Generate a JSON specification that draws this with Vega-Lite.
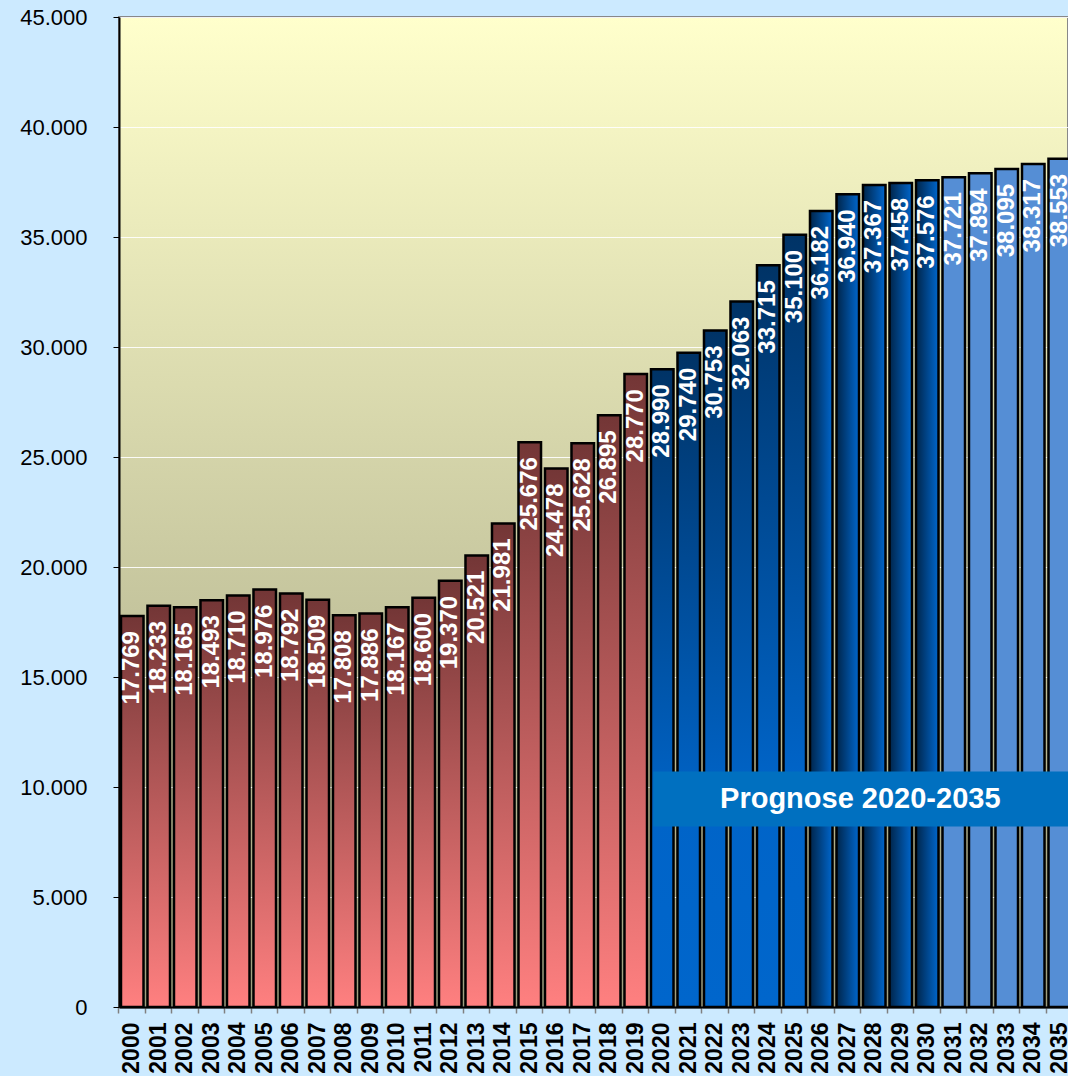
{
  "$schema": "https://vega.github.io/schema/vega-lite/v6.json",
  "autosize": {"type": "none"},
  "padding": {"left": 119, "top": 17, "right": 0, "bottom": 69},
  "width": 949,
  "height": 990,
  "background": "#CCEAFF",
  "config": {
    "locale": {"number": {"decimal": ",", "thousands": ".", "grouping": [3], "currency": ["", " €"]}},
    "font": "Liberation Sans",
    "view": {
      "stroke": "#888888",
      "strokeWidth": 2,
      "fill": {"gradient": "linear", "x1": 0, "y1": 0, "x2": 0, "y2": 1,
        "stops": [{"offset": 0, "color": "#FFFFCC"}, {"offset": 1, "color": "#9E9E7E"}]}
    }
  },
  "datasets": {
    "bars": [
      {"year": "2000", "value": 17769, "grp": "hist"},
      {"year": "2001", "value": 18233, "grp": "hist"},
      {"year": "2002", "value": 18165, "grp": "hist"},
      {"year": "2003", "value": 18493, "grp": "hist"},
      {"year": "2004", "value": 18710, "grp": "hist"},
      {"year": "2005", "value": 18976, "grp": "hist"},
      {"year": "2006", "value": 18792, "grp": "hist"},
      {"year": "2007", "value": 18509, "grp": "hist"},
      {"year": "2008", "value": 17808, "grp": "hist"},
      {"year": "2009", "value": 17886, "grp": "hist"},
      {"year": "2010", "value": 18167, "grp": "hist"},
      {"year": "2011", "value": 18600, "grp": "hist"},
      {"year": "2012", "value": 19370, "grp": "hist"},
      {"year": "2013", "value": 20521, "grp": "hist"},
      {"year": "2014", "value": 21981, "grp": "hist"},
      {"year": "2015", "value": 25676, "grp": "hist"},
      {"year": "2016", "value": 24478, "grp": "hist"},
      {"year": "2017", "value": 25628, "grp": "hist"},
      {"year": "2018", "value": 26895, "grp": "hist"},
      {"year": "2019", "value": 28770, "grp": "hist"},
      {"year": "2020", "value": 28990, "grp": "p1"},
      {"year": "2021", "value": 29740, "grp": "p1"},
      {"year": "2022", "value": 30753, "grp": "p1"},
      {"year": "2023", "value": 32063, "grp": "p1"},
      {"year": "2024", "value": 33715, "grp": "p1"},
      {"year": "2025", "value": 35100, "grp": "p1"},
      {"year": "2026", "value": 36182, "grp": "p2"},
      {"year": "2027", "value": 36940, "grp": "p2"},
      {"year": "2028", "value": 37367, "grp": "p2"},
      {"year": "2029", "value": 37458, "grp": "p2"},
      {"year": "2030", "value": 37576, "grp": "p2"},
      {"year": "2031", "value": 37721, "grp": "p3"},
      {"year": "2032", "value": 37894, "grp": "p3"},
      {"year": "2033", "value": 38095, "grp": "p3"},
      {"year": "2034", "value": 38317, "grp": "p3"},
      {"year": "2035", "value": 38553, "grp": "p3"}
    ],
    "box": [
      {"start": "2020", "mid": "2028", "top": 10700, "bottom": 8200, "center": 9450, "label": "Prognose 2020-2035"}
    ]
  },
  "layer": [
    {
      "data": {"name": "bars"},
      "transform": [{"filter": "datum.grp === 'hist'"}],
      "mark": {"type": "bar", "stroke": "#000000", "strokeWidth": 2.5,
        "fill": {"gradient": "linear", "x1": 0, "y1": 0, "x2": 0, "y2": 1,
          "stops": [{"offset": 0, "color": "#733636"}, {"offset": 1, "color": "#FF8080"}]}},
      "encoding": {
        "x": {
          "field": "year", "type": "ordinal", "title": null,
          "scale": {"range": [0, 954], "paddingInner": 0.15, "paddingOuter": 0.075},
          "axis": {
            "labelAngle": 270, "labelAlign": "right", "labelBaseline": "middle",
            "labelFont": "Liberation Sans", "labelFontSize": 23, "labelFontWeight": "bold", "labelColor": "#000000",
            "labelPadding": 9, "tickColor": "#808080", "tickSize": 6, "tickWidth": 1.5,
            "bandPosition": -0.09,
            "domainColor": "#000000", "domainWidth": 2, "grid": false
          }
        },
        "y": {
          "field": "value", "type": "quantitative", "title": null,
          "scale": {"domain": [0, 45000], "nice": false},
          "axis": {
            "values": [0, 5000, 10000, 15000, 20000, 25000, 30000, 35000, 40000, 45000],
            "format": ",.0f", "labelFont": "Liberation Sans", "labelFontSize": 22, "labelColor": "#000000",
            "labelPadding": 26, "tickColor": "#000000", "tickSize": 6, "tickWidth": 1,
            "domainColor": "#000000", "domainWidth": 2,
            "grid": true, "gridColor": "#FFFFFF", "gridWidth": 1, "gridOpacity": 0.9
          }
        }
      }
    },
    {
      "data": {"name": "bars"},
      "transform": [{"filter": "datum.grp === 'p1'"}],
      "mark": {"type": "bar", "stroke": "#000000", "strokeWidth": 2.5,
        "fill": {"gradient": "linear", "x1": 0, "y1": 0, "x2": 0, "y2": 1,
          "stops": [{"offset": 0, "color": "#003366"}, {"offset": 0.7, "color": "#0064C8"}, {"offset": 1, "color": "#0066CC"}]}},
      "encoding": {"x": {"field": "year", "type": "ordinal"}, "y": {"field": "value", "type": "quantitative"}}
    },
    {
      "data": {"name": "bars"},
      "transform": [{"filter": "datum.grp === 'p2'"}],
      "mark": {"type": "bar", "stroke": "#000000", "strokeWidth": 2.5,
        "fill": {"gradient": "linear", "x1": 0, "y1": 0, "x2": 1, "y2": 0,
          "stops": [{"offset": 0, "color": "#00254A"}, {"offset": 1, "color": "#0066CC"}]}},
      "encoding": {"x": {"field": "year", "type": "ordinal"}, "y": {"field": "value", "type": "quantitative"}}
    },
    {
      "data": {"name": "bars"},
      "transform": [{"filter": "datum.grp === 'p3'"}],
      "mark": {"type": "bar", "stroke": "#000000", "strokeWidth": 2.5, "fill": "#558ED5"},
      "encoding": {"x": {"field": "year", "type": "ordinal"}, "y": {"field": "value", "type": "quantitative"}}
    },
    {
      "data": {"name": "bars"},
      "mark": {"type": "text", "angle": 270, "align": "right", "baseline": "middle", "dx": -15,
        "font": "Liberation Sans", "fontSize": 24, "fontWeight": "bold", "fill": "#FFFFFF"},
      "encoding": {
        "x": {"field": "year", "type": "ordinal"},
        "y": {"field": "value", "type": "quantitative"},
        "text": {"field": "value", "type": "quantitative", "format": ",.0f"}
      }
    },
    {
      "data": {"name": "box"},
      "mark": {"type": "rect", "fill": "#0070C0"},
      "encoding": {
        "x": {"field": "start", "type": "ordinal", "bandPosition": 0.1},
        "x2": {"value": "width"},
        "y": {"field": "top", "type": "quantitative"},
        "y2": {"field": "bottom"}
      }
    },
    {
      "data": {"name": "box"},
      "mark": {"type": "text", "font": "Liberation Sans", "fontSize": 29, "fontWeight": "bold", "fill": "#FFFFFF", "align": "center", "baseline": "middle"},
      "encoding": {
        "x": {"field": "mid", "type": "ordinal", "bandPosition": -0.12},
        "y": {"field": "center", "type": "quantitative"},
        "text": {"field": "label"}
      }
    }
  ]
}
